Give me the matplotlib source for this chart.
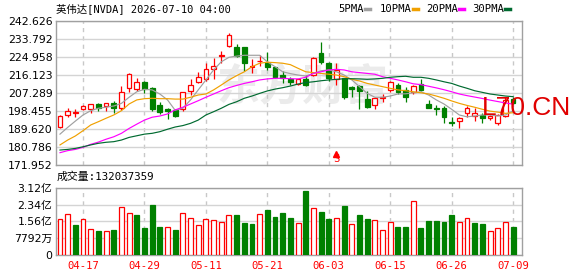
import matplotlib
matplotlib.use("Agg")
import matplotlib.pyplot as plt
from matplotlib.lines import Line2D
import numpy as np

title = "英伟达[NVDA] 2026-07-10 04:00"
date_labels = ["04-17", "04-29", "05-11", "05-21", "06-03", "06-15", "06-26", "07-09"]
date_index = [3, 11, 19, 27, 35, 43, 51, 59]

opens = [190.7, 196.3, 197.5, 199.6, 199.6, 201.9, 200.9, 202.2, 199.8, 209.6,
         209.2, 212.5, 209.6, 201.2, 199.4, 198.9, 199.3, 208.4, 212.9, 214.0,
         218.9, 225.4, 230.2, 229.7, 229.7, 219.9, 222.8, 222.2, 219.9, 216.1,
         214.2, 211.5, 214.0, 216.1, 226.8, 221.9, 214.0, 214.5, 210.4, 210.7,
         204.3, 201.4, 204.7, 208.8, 211.2, 208.8, 207.9, 211.5, 201.9, 199.9,
         199.8, 192.9, 193.7, 197.3, 196.1, 196.6, 194.9, 192.4, 196.0, 204.3]
highs = [196.5, 199.8, 199.3, 201.2, 201.9, 202.4, 202.4, 203.4, 210.7, 216.9,
         214.5, 213.0, 210.4, 202.7, 199.8, 199.2, 208.0, 214.0, 217.8, 222.2,
         224.5, 227.9, 236.6, 231.3, 229.9, 223.8, 225.8, 227.4, 220.1, 218.1,
         215.3, 214.3, 216.1, 225.1, 232.5, 222.6, 221.9, 214.7, 210.6, 211.4,
         208.4, 205.4, 206.8, 213.0, 212.0, 210.4, 211.1, 214.0, 203.9, 201.4,
         200.9, 195.4, 195.6, 200.9, 199.8, 197.4, 196.5, 196.9, 205.5, 205.4]
lows = [190.3, 195.6, 195.6, 198.9, 197.6, 198.6, 198.6, 197.6, 198.9, 207.6,
        208.3, 207.4, 198.6, 196.8, 194.7, 195.6, 198.6, 206.3, 212.0, 213.3,
        214.3, 221.9, 229.7, 224.8, 218.2, 217.0, 220.5, 218.6, 214.5, 212.0,
        211.2, 211.3, 210.7, 215.6, 221.4, 213.3, 211.2, 204.3, 205.2, 199.3,
        199.8, 199.4, 203.0, 207.9, 206.8, 203.0, 207.0, 208.4, 200.0, 196.5,
        192.4, 191.1, 189.9, 195.4, 193.7, 192.4, 194.0, 191.6, 195.5, 202.0]
closes = [196.0, 198.4, 197.9, 201.0, 201.7, 200.0, 202.2, 199.8, 207.8, 216.5,
          212.8, 209.2, 199.3, 198.1, 198.4, 196.1, 207.8, 211.0, 215.0, 218.9,
          220.5, 226.1, 235.6, 225.6, 221.9, 220.5, 223.1, 219.9, 215.3, 214.5,
          212.5, 214.0, 211.2, 224.3, 222.6, 214.5, 218.6, 205.5, 209.1, 208.4,
          200.6, 205.0, 205.2, 212.7, 207.9, 205.2, 210.7, 208.8, 200.1, 199.3,
          195.6, 192.6, 195.0, 199.8, 197.3, 195.0, 196.0, 196.5, 204.0, 202.5]

ma5 = [187.1, 190.4, 193.5, 196.5, 198.6, 199.8, 200.3, 200.9, 202.2, 205.2,
       207.9, 209.1, 208.8, 206.8, 203.9, 198.8, 199.8, 203.9, 208.8, 213.7,
       218.6, 222.6, 224.8, 225.4, 225.8, 225.8, 225.8, 222.6, 220.2, 217.7,
       216.8, 216.1, 215.6, 216.9, 218.2, 218.6, 217.7, 216.1, 213.7, 210.4,
       207.1, 205.2, 205.2, 205.8, 206.8, 206.9, 207.4, 207.9, 206.3, 203.9,
       201.9, 199.3, 196.5, 195.6, 196.0, 196.5, 196.5, 196.0, 196.5, 198.6]
ma10 = [181.8, 184.2, 186.2, 188.8, 191.6, 193.2, 194.9, 196.5, 198.6, 201.9,
        203.9, 204.5, 204.7, 204.5, 204.5, 204.3, 204.3, 205.2, 206.3, 206.8,
        208.8, 211.2, 213.7, 215.8, 217.7, 220.2, 221.9, 222.4, 222.2, 221.9,
        221.2, 219.4, 217.7, 217.3, 216.9, 216.5, 216.1, 215.3, 214.0, 213.2,
        212.0, 211.2, 210.4, 209.6, 208.8, 208.4, 207.9, 207.4, 206.8, 205.8,
        204.7, 203.4, 202.2, 201.2, 200.3, 199.3, 198.4, 197.9, 197.3, 197.6]
ma20 = [178.0, 179.0, 179.6, 180.6, 182.1, 183.2, 184.6, 185.8, 187.5, 189.9,
        192.0, 194.0, 195.4, 196.0, 197.0, 199.0, 200.3, 201.9, 203.5, 205.2,
        206.8, 208.4, 209.9, 211.0, 212.0, 212.8, 213.7, 214.2, 214.5, 214.5,
        214.3, 214.2, 215.0, 216.9, 217.7, 218.6, 218.9, 218.6, 217.7, 217.3,
        216.9, 216.5, 215.3, 214.5, 213.7, 212.8, 211.8, 211.4, 210.6, 209.8,
        208.9, 207.9, 206.8, 206.0, 205.3, 204.6, 203.8, 203.1, 202.4, 201.8]
ma30 = [179.3, 179.6, 180.1, 180.9, 181.8, 182.6, 183.1, 183.4, 184.2, 185.5,
        186.3, 187.1, 187.5, 188.3, 189.5, 190.6, 191.3, 192.4, 194.0, 196.5,
        198.1, 199.8, 201.7, 203.0, 204.7, 205.8, 207.1, 208.3, 209.2, 209.9,
        210.7, 211.7, 212.4, 212.8, 213.3, 213.7, 214.0, 214.3, 214.3, 214.2,
        214.0, 214.2, 214.5, 215.0, 215.3, 215.5, 215.0, 215.0, 214.5, 213.7,
        212.8, 212.0, 210.7, 209.6, 208.4, 207.6, 206.8, 206.3, 205.8, 205.5]

# volume in 亿 shares, colour flag: 1 = up (red hollow), 0 = down (green)
volume_yi = [1.655, 1.90, 1.41, 1.655, 1.21, 1.13, 1.11, 1.17, 2.23, 1.95,
             1.87, 1.27, 2.33, 1.31, 1.30, 1.17, 1.95, 1.72, 1.41, 1.655,
             1.62, 1.53, 1.855, 1.87, 1.50, 1.45, 1.90, 2.10, 1.78, 1.96,
             1.73, 1.50, 2.97, 2.16, 1.99, 1.67, 1.70, 2.27, 1.44, 1.855,
             1.67, 1.61, 1.14, 1.51, 1.30, 1.30, 2.49, 1.25, 1.58, 1.58,
             1.53, 1.855, 1.51, 1.70, 1.48, 1.44, 1.10, 1.24, 1.51, 1.32037359]
volume_up = [1, 1, 0, 1, 1, 0, 1, 0, 1, 1,
             0, 0, 0, 0, 1, 0, 1, 1, 1, 1,
             1, 1, 1, 0, 0, 0, 1, 0, 0, 0,
             0, 1, 0, 1, 0, 0, 1, 0, 1, 0,
             0, 1, 1, 1, 0, 0, 1, 0, 0, 0,
             0, 0, 1, 1, 0, 0, 1, 1, 1, 0]
last_volume = 132037359
signal_index = 36

price_ticks = [171.952, 180.786, 189.620, 198.455, 207.289, 216.123, 224.958, 233.792, 242.626]
volume_ticks = [0, 0.7792, 1.5584, 2.3376, 3.1168]
volume_tick_labels = ["0", "7792万", "1.56亿", "2.34亿", "3.12亿"]

RED = "#ff0000"
GREEN = "#008000"
GRID = "#d4d4d4"
SPINE = "#a0a0a0"
MA_COLORS = ["#a0a0a0", "#f0a000", "#ff00ff", "#006a30"]
MONO = ["DejaVu Sans Mono", "Noto Sans CJK SC"]
SANS = ["DejaVu Sans", "Noto Sans CJK SC"]

W, H = 578, 276


def box(left, top, right, bottom):
    return [left / W, 1 - bottom / H, (right - left) / W, (bottom - top) / H]


fig = plt.figure(figsize=(W / 100, H / 100), dpi=100)
fig.patch.set_facecolor("white")
ax = fig.add_axes(box(56, 21, 522, 165))
axv = fig.add_axes(box(56, 187.8, 522, 255))

x = np.arange(len(closes))
o = np.array(opens)
c = np.array(closes)
up = c >= o
candle_colors = np.where(up, RED, GREEN)

ax.text(0.53, 0.53, "东方财富", transform=ax.transAxes, ha="center", va="center",
        fontsize=31, fontweight="bold", color="#ebebeb", family=SANS, zorder=0.2)

ax.vlines(x, lows, highs, colors=candle_colors, linewidth=0.9, zorder=2)
ax.bar(x, np.abs(c - o), bottom=np.minimum(o, c), width=0.62,
       facecolor=np.where(up, "white", GREEN), edgecolor=candle_colors,
       linewidth=0.9, zorder=3)

for series, color in zip([ma5, ma10, ma20, ma30], MA_COLORS):
    ax.plot(x, series, color=color, linewidth=0.85, zorder=4)

ax.plot(signal_index, 177.4, marker="^", markersize=4, color=RED, zorder=5)
ax.text(signal_index, 172.3, "S", color=RED, ha="center", va="bottom",
        fontsize=7.5, family=MONO, zorder=5)

vol_up = np.array(volume_up, dtype=bool)
axv.bar(x, volume_yi, width=0.64, facecolor=np.where(vol_up, "white", GREEN),
        edgecolor=np.where(vol_up, RED, GREEN), linewidth=0.9, zorder=3)

for a in (ax, axv):
    a.set_xlim(-0.52, 60.16)
    a.set_xticks(date_index)
    a.xaxis.grid(True, color="#c8c8c8", linestyle=(0, (3, 3)), linewidth=1, zorder=0.5)
    a.yaxis.grid(True, color=GRID, linestyle="-", linewidth=1, zorder=0.5)
    a.set_axisbelow(True)
    a.tick_params(length=0, pad=2.5, labelsize=7.8)
    for spine in a.spines.values():
        spine.set_color(SPINE)
        spine.set_linewidth(1)

ax.set_ylim(price_ticks[0], price_ticks[-1])
ax.set_yticks(price_ticks)
ax.set_yticklabels([f"{t:.3f}" for t in price_ticks], family=SANS)
ax.set_xticklabels([])

axv.set_ylim(0, volume_ticks[-1])
axv.set_yticks(volume_ticks)
axv.set_yticklabels(volume_tick_labels, family=SANS)
axv.set_xticklabels(date_labels, color=RED, family=MONO, fontsize=7.6)
axv.tick_params(axis="x", pad=4)

fig.text(56 / W, 1 - 9 / H, title, ha="left", va="center", fontsize=7.5, family=MONO)
fig.text(57 / W, 1 - 177 / H, f"成交量:{last_volume}", ha="left", va="center",
         fontsize=7.8, family=MONO)

legend_x = [338, 380, 426, 472]
for label, color, lx in zip(["5PMA", "10PMA", "20PMA", "30PMA"], MA_COLORS, legend_x):
    fig.text(lx / W, 1 - 9 / H, label, ha="left", va="center", fontsize=7.6, family=MONO)
    dash_x = lx + 6.0 * len(label) + 3
    fig.add_artist(Line2D([dash_x / W, (dash_x + 5) / W], [1 - 9 / H, 1 - 9 / H],
                          transform=fig.transFigure, color=color, linewidth=2.5))

fig.text(482 / W, 1 - 107.5 / H, "L70.CN", ha="left", va="center", fontsize=19,
         color="#e00000", family="Liberation Sans")

fig.savefig("out.png", dpi=100)
plt.close(fig)
